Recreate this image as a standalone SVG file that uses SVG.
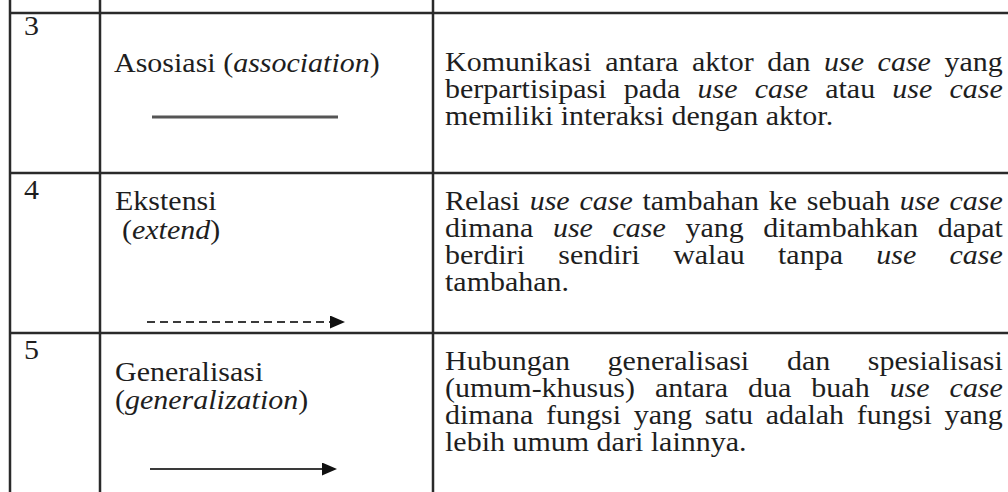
<svg xmlns="http://www.w3.org/2000/svg" width="1008" height="492" viewBox="0 0 1008 492">
<style>
text{font-family:"Liberation Serif","Times New Roman",serif;font-size:30px;fill:#1e1e1e}
.i{font-style:italic}
.grid{stroke:#2a2a2a;stroke-width:2.5;fill:none}
.sym{stroke:#3a3a3a;stroke-width:2.2;fill:none}
</style>
<defs>
<marker id="arr" viewBox="0 0 15 13" markerWidth="15" markerHeight="13" markerUnits="userSpaceOnUse" refX="0" refY="6.5" orient="auto">
<path d="M0,0 L15,6.5 L0,13 z" fill="#111"/>
</marker>
</defs>
<rect width="1008" height="492" fill="#ffffff"/>
<g id="grid">
<line class="grid" x1="10" y1="0" x2="10" y2="492"/>
<line class="grid" x1="100" y1="0" x2="100" y2="492"/>
<line class="grid" x1="433" y1="0" x2="433" y2="492"/>
<line class="grid" x1="10" y1="13" x2="1008" y2="13"/>
<line class="grid" x1="10" y1="173" x2="1008" y2="173"/>
<line class="grid" x1="10" y1="333" x2="1008" y2="333"/>
</g>
<g id="row3" transform="scale(1 0.88)">
<text x="24" y="39.8">3</text>
<text x="114" y="81.8">Asosiasi (<tspan class="i">association</tspan>)</text>
<text x="445" y="80.7" style="word-spacing:6.07px">Komunikasi antara aktor dan <tspan class="i">use case</tspan> yang</text>
<text x="445" y="111.4" style="word-spacing:9.69px">berpartisipasi pada <tspan class="i">use case</tspan> atau <tspan class="i">use case</tspan></text>
<text x="445" y="142">memiliki interaksi dengan aktor.</text>
</g>
<g id="row4" transform="scale(1 0.88)">
<text x="24" y="226.1">4</text>
<text x="115" y="238.6">Ekstensi</text>
<text x="122" y="271.6">(<tspan class="i">extend</tspan>)</text>
<text x="445" y="238.6" style="word-spacing:2.23px">Relasi <tspan class="i">use case</tspan> tambahan ke sebuah <tspan class="i">use case</tspan></text>
<text x="445" y="269.3" style="word-spacing:12.12px">dimana <tspan class="i">use case</tspan> yang ditambahkan dapat</text>
<text x="445" y="300" style="word-spacing:25.79px">berdiri sendiri walau tanpa <tspan class="i">use case</tspan></text>
<text x="445" y="330.7">tambahan.</text>
</g>
<g id="row5" transform="scale(1 0.88)">
<text x="24" y="408">5</text>
<text x="115" y="433">Generalisasi</text>
<text x="115" y="464.8">(<tspan class="i">generalization</tspan>)</text>
<text x="445" y="420.5" style="word-spacing:30.19px">Hubungan generalisasi dan spesialisasi</text>
<text x="445" y="451.1" style="word-spacing:12.46px">(umum-khusus) antara dua buah <tspan class="i">use case</tspan></text>
<text x="445" y="481.8" style="word-spacing:5.24px">dimana fungsi yang satu adalah fungsi yang</text>
<text x="445" y="512.5">lebih umum dari lainnya.</text>
</g>
<g id="connectors">
<line x1="152" y1="117" x2="338" y2="117" stroke="#555" stroke-width="3"/>
<line class="sym" x1="147" y1="322" x2="330" y2="322" stroke-dasharray="8 5" marker-end="url(#arr)"/>
<line class="sym" x1="150" y1="469" x2="322" y2="469" marker-end="url(#arr)"/>
</g>
</svg>
